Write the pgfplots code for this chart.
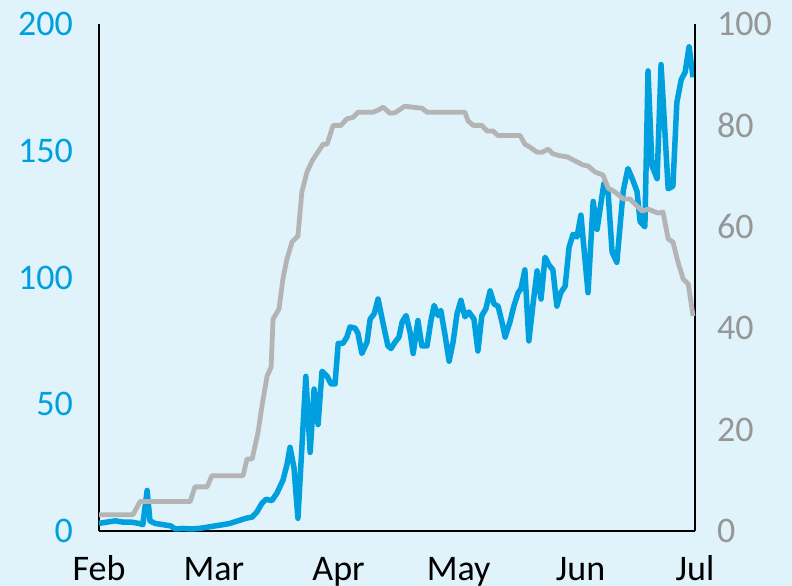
\documentclass[border=0pt]{standalone}
\usepackage{pgfplots}
\pgfplotsset{compat=1.18}
\usepackage{fontspec}
\setmainfont{Carlito}
\definecolor{bg}{RGB}{224,242,250}
\definecolor{lblue}{RGB}{0,160,222}
\definecolor{lgray}{RGB}{180,180,180}
\definecolor{tgray}{RGB}{150,150,150}
\begin{document}
\begin{tikzpicture}
\fill[bg] (-99bp,-55bp) rectangle (693bp,531bp);
\path[use as bounding box] (-99bp,-55bp) rectangle (693bp,531bp);
\pgfplotsset{
  every tick label/.append style={font=\fontsize{36bp}{43bp}\selectfont, inner sep=0pt},
  /pgf/number format/assume math mode=true,
}
\begin{axis}[
  at={(0,0)}, anchor=south west,
  scale only axis, width=596bp, height=507bp,
  xmin=0, xmax=151, ymin=0, ymax=200,
  axis y line*=left, axis x line*=bottom,
  axis line style={-, line width=1.8bp, black},
  major tick length=0pt,
  ytick={0,50,100,150,200},
  xtick={0,29.1,60.7,91.1,122,151},
  xticklabels={Feb,Mar,Apr,May,Jun,Jul},
  xticklabel style={anchor=base, yshift=-49bp, text=black},
  yticklabel style={anchor=east, xshift=-26bp, text=lblue},
  clip=false,
]
\addplot[lblue, line width=5.5bp, line join=round] coordinates {
(0.0,3) (2.0,3.5) (4.1,4) (6.1,3.5) (8.1,3.5) (10.1,3) (11.1,2.5) (12.2,16) (12.9,4)
(14.2,3) (16.2,2.5) (18.2,2) (19.3,0.8) (21.3,1) (23.3,0.8) (25.3,1) (27.4,1.5)
(29.4,2) (31.4,2.5) (33.2,3) (35.2,4) (37.2,5) (38.8,5.5) (40.0,7.5) (41.3,11)
(42.3,12.5) (43.8,12) (45.1,15) (46.6,20) (47.6,26) (48.4,33) (49.4,25) (50.4,5)
(52.4,61) (53.5,31) (54.5,56) (55.5,42) (56.5,63) (57.8,61) (58.8,58) (59.8,58)
(60.6,74) (61.8,74) (62.8,76.5) (63.6,80.5) (64.9,80) (65.6,78) (66.6,70) (67.9,74.5)
(68.7,83.6) (69.7,85.6) (70.7,91.5) (72.0,81.7) (73.2,73) (74.0,72) (75.0,74.5)
(76.0,76.5) (76.8,82.4) (77.8,85) (78.8,78.5) (79.6,70) (80.8,83) (81.8,73) (83.1,73)
(84.1,83) (84.9,89) (85.9,85) (86.6,87) (87.7,77) (88.7,67) (89.7,74.5) (90.7,85.6)
(91.7,91) (92.7,84.5) (93.7,86.4) (95.0,83.6) (96.0,71) (97.0,85) (98.0,87.6)
(99.1,94.7) (100.1,89.5) (101.1,88.7) (102.1,82.4) (102.9,76.5) (104.1,82.4)
(105.1,88.7) (106.2,94) (106.9,95.5) (107.9,103) (108.9,75) (110.0,90) (111.0,102.6)
(112.0,91.5) (113.0,108) (114.0,105) (115.0,103) (116.0,88.7) (117.0,94) (118.1,96.6)
(119.1,112) (120.1,117) (121.1,116) (122.1,124.6) (123.9,94) (125.2,130) (126.2,119)
(127.9,137) (129.0,133) (130.0,110) (131.2,106) (132.8,134) (134.0,143) (135.1,139)
(136.3,134) (137.1,122) (138.3,120) (139.1,181.5) (140.1,144) (141.4,139) (142.4,184)
(144.2,135) (145.4,136) (146.4,169) (147.5,178) (148.5,181) (149.5,191) (150.5,179)
};
\end{axis}
\begin{axis}[
  at={(0,0)}, anchor=south west,
  scale only axis, width=596bp, height=507bp,
  xmin=0, xmax=151, ymin=0, ymax=100,
  axis y line*=right, axis x line=none,
  axis line style={-, line width=1.8bp, black},
  major tick length=0pt,
  ytick={0,20,40,60,80,100},
  yticklabel style={anchor=west, xshift=22bp, text=tgray},
  clip=false,
]
\addplot[lgray, line width=4.8bp, line join=round] coordinates {
(0,3.2) (8.6,3.2) (10.4,5.8) (23.1,5.8) (24.3,8.7) (27.4,8.7) (28.6,10.9) (36.5,10.9)
(37.5,14.2) (38.8,14.2) (40.3,19.5) (41.3,24.7) (42.6,30.6) (43.6,32.3) (44.1,41.8)
(45.6,43.8) (46.6,49.7) (47.6,53.6) (48.9,57) (50.4,58.2) (51.4,66.9) (52.7,70.8)
(54.0,73) (55.5,74.8) (56.8,76.3) (57.8,76.3) (59.3,80) (61.3,80) (62.8,81.3)
(64.4,81.6) (65.6,82.6) (69.4,82.6) (70.7,83) (72.0,83.6) (73.7,82.4) (75.0,82.5)
(77.5,83.8) (79.3,83.6) (81.8,83.4) (83.1,82.6) (92.7,82.6) (93.5,80.9) (94.8,80)
(97.0,80) (98.3,78.9) (99.8,78.9) (101.1,78) (106.7,78) (107.9,76.3) (109.2,75.7)
(111.0,74.7) (112.2,74.7) (113.8,75.3) (115.0,74.4) (116.8,74) (118.6,73.8)
(120.6,73) (122.6,72.2) (123.9,72) (125.7,70.8) (127.7,70.2) (129.0,67.6) (130.7,66.9)
(132.8,65.5) (134.5,65.5) (137.6,63.1) (139.1,63.5) (141.6,62.7) (142.9,62.9)
(144.2,57.6) (145.4,57) (146.7,53) (148.0,49.7) (149.3,48.7) (150.5,42.4)
};
\end{axis}
\end{tikzpicture}
\end{document}
